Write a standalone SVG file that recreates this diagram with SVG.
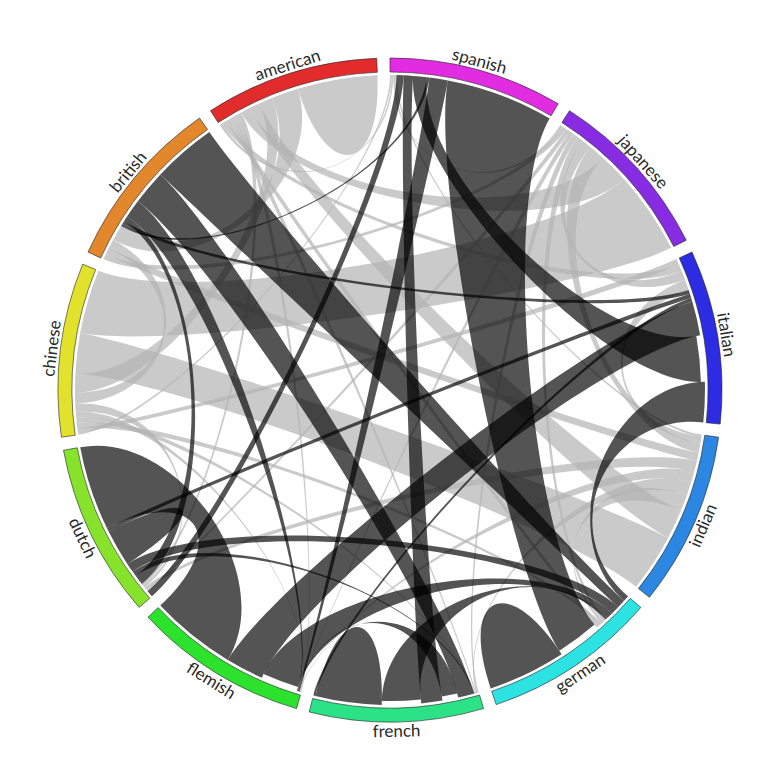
<svg xmlns="http://www.w3.org/2000/svg" width="780" height="780" viewBox="0 0 780 780">
<style>
.g{fill:#b4b4b4;fill-opacity:.7}
.d{fill:#000;fill-opacity:.67}
.arc{stroke:#222;stroke-width:.6}
.lbl{font-family:Lato,"Open Sans","Liberation Sans",sans-serif;font-weight:400;font-size:17px;fill:#2a2a2a;text-anchor:middle}
</style>
<rect width="780" height="780" fill="#fff"/>
<g id="connectors">
<path class="g" d="M390,75 A315,315 0 0 1 391.6,75 C391.1,174.2 176.4,420.7 78.2,434.8 A315,315 0 0 1 77.9,432.8 C176.2,419.3 390,174.2 390,75Z"/>
<path class="g" d="M391.6,75 A315,315 0 0 1 393.3,75 C392.3,174.2 273.3,208.5 219.7,125 A315,315 0 0 1 222.1,123.5 C275,207.4 391.1,174.2 391.6,75Z"/>
<path class="g" d="M393.3,75 A315,315 0 0 1 395,75 C393.4,174.2 506.7,208.5 560.3,125 A315,315 0 0 1 562.9,126.7 C508.5,209.6 392.3,174.2 393.3,75Z"/>
<path class="g" d="M395,75 A315,315 0 0 1 396.6,75.1 C394.5,174.3 603.6,420.7 701.8,434.8 A315,315 0 0 1 701.5,437.1 C603.4,422.3 393.4,174.2 395,75Z"/>
<path class="g" d="M562.9,126.7 A315,315 0 0 1 566.1,128.9 C510.7,211.1 193.7,300.3 103.5,259.1 A315,315 0 0 1 105.7,254.4 C195.2,297.1 508.5,209.6 562.9,126.7Z"/>
<path class="g" d="M566.1,128.9 A315,315 0 0 1 569.8,131.3 C513.2,212.8 224,527.9 147.6,591.2 A315,315 0 0 1 146.6,589.9 C223.2,527 510.7,211.1 566.1,128.9Z"/>
<path class="g" d="M569.8,131.3 A315,315 0 0 1 573.4,133.9 C515.6,214.5 328.5,596.9 300.3,692 A315,315 0 0 1 299.9,691.8 C328.3,596.8 513.2,212.8 569.8,131.3Z"/>
<path class="g" d="M573.4,133.9 A315,315 0 0 1 577.8,137.1 C518.7,216.8 450.8,597.1 478.7,692.3 A315,315 0 0 1 477.4,692.7 C449.9,597.3 515.6,214.5 573.4,133.9Z"/>
<path class="g" d="M577.8,137.1 A315,315 0 0 1 583.1,141.1 C522.3,219.5 537.7,547.3 605.6,619.6 A315,315 0 0 1 603.6,621.5 C536.4,548.6 518.7,216.8 577.8,137.1Z"/>
<path class="g" d="M583.1,141.1 A315,315 0 0 1 590.4,146.9 C527.3,223.5 589.8,308.5 681.7,271 A315,315 0 0 1 685.1,279.7 C592.1,314.4 522.3,219.5 583.1,141.1Z"/>
<path class="g" d="M590.4,146.9 A315,315 0 0 1 602.8,157.8 C535.8,230.9 602.7,426.7 700.4,443.6 A315,315 0 0 1 698.7,452.8 C601.5,433 527.3,223.5 590.4,146.9Z"/>
<path class="g" d="M602.8,157.8 A315,315 0 0 1 624.1,179.2 C550.4,245.6 288,199.8 241.2,112.4 A315,315 0 0 1 249.5,108.1 C293.7,196.9 535.8,230.9 602.8,157.8Z"/>
<path class="g" d="M624.1,179.2 A315,315 0 0 1 671.1,247.8 C582.6,292.6 177.8,351 80.2,333.1 A315,315 0 0 1 98.5,270.7 C190.3,308.3 550.4,245.6 624.1,179.2Z"/>
<path class="g" d="M676.5,259.1 A315,315 0 0 1 678.9,264.4 C587.9,304 176.2,419.3 77.9,432.8 A315,315 0 0 1 77.4,428.4 C175.8,416.3 586.3,300.3 676.5,259.1Z"/>
<path class="g" d="M678.9,264.4 A315,315 0 0 1 681.7,271 C589.8,308.5 275,207.4 222.1,123.5 A315,315 0 0 1 225.9,121.1 C277.6,205.8 587.9,304 678.9,264.4Z"/>
<path class="g" d="M685.1,279.7 A315,315 0 0 1 688.7,290.1 C594.7,321.5 603.4,422.3 701.5,437.1 A315,315 0 0 1 700.4,443.6 C602.7,426.7 592.1,314.4 685.1,279.7Z"/>
<path class="g" d="M698.7,452.8 A315,315 0 0 1 696.9,460.9 C600.3,438.5 195.2,297.1 105.7,254.4 A315,315 0 0 1 108.8,248 C197.4,292.7 601.5,433 698.7,452.8Z"/>
<path class="g" d="M696.9,460.9 A315,315 0 0 1 694.3,471.5 C598.5,445.9 223.2,527 146.6,589.9 A315,315 0 0 1 144.5,587.4 C221.8,525.2 600.3,438.5 696.9,460.9Z"/>
<path class="g" d="M694.3,471.5 A315,315 0 0 1 691.2,482.1 C596.4,453.1 328.3,596.8 299.9,691.8 A315,315 0 0 1 299.5,691.7 C328,596.7 598.5,445.9 694.3,471.5Z"/>
<path class="g" d="M691.2,482.1 A315,315 0 0 1 686.9,495.2 C593.4,462 449.9,597.3 477.4,692.7 A315,315 0 0 1 476.3,693 C449.1,597.5 596.4,453.1 691.2,482.1Z"/>
<path class="g" d="M686.9,495.2 A315,315 0 0 1 681,510.5 C589.4,472.6 536.4,548.6 603.6,621.5 A315,315 0 0 1 601.6,623.4 C535,549.9 593.4,462 686.9,495.2Z"/>
<path class="g" d="M681,510.5 A315,315 0 0 1 668.1,537.9 C580.5,491.3 293.7,196.9 249.5,108.1 A315,315 0 0 1 259.4,103.4 C300.5,193.6 589.4,472.6 681,510.5Z"/>
<path class="g" d="M668.1,537.9 A315,315 0 0 1 636.1,586.7 C558.6,524.7 174.5,378.7 75.4,373.5 A315,315 0 0 1 80.2,333.1 C177.8,351 580.5,491.3 668.1,537.9Z"/>
<path class="g" d="M601.6,623.4 A315,315 0 0 1 599.6,625.2 C533.6,551.1 175.8,416.3 77.4,428.4 A315,315 0 0 1 76.7,422.9 C175.4,412.6 535,549.9 601.6,623.4Z"/>
<path class="g" d="M599.6,625.2 A315,315 0 0 1 597.1,627.4 C531.9,552.6 277.6,205.8 225.9,121.1 A315,315 0 0 1 229.7,118.9 C280.2,204.3 533.6,551.1 599.6,625.2Z"/>
<path class="g" d="M476.3,693 A315,315 0 0 1 475.2,693.3 C448.4,597.8 280.2,204.3 229.7,118.9 A315,315 0 0 1 233.5,116.7 C282.8,202.7 449.1,597.5 476.3,693Z"/>
<path class="g" d="M475.2,693.3 A315,315 0 0 1 474.5,693.5 C447.9,597.9 175.4,412.6 76.7,422.9 A315,315 0 0 1 76.2,417.5 C175,408.8 448.4,597.8 475.2,693.3Z"/>
<path class="g" d="M301.3,692.3 A315,315 0 0 1 300.8,692.1 C328.9,597 175,408.8 76.2,417.5 A315,315 0 0 1 75.8,412 C174.7,405.1 329.2,597.1 301.3,692.3Z"/>
<path class="g" d="M300.8,692.1 A315,315 0 0 1 300.3,692 C328.5,596.9 282.8,202.7 233.5,116.7 A315,315 0 0 1 237.3,114.5 C285.4,201.3 328.9,597 300.8,692.1Z"/>
<path class="g" d="M144.5,587.4 A315,315 0 0 1 143.1,585.7 C220.9,524 174.7,405.1 75.8,412 A315,315 0 0 1 75.3,403.7 C174.4,399.4 221.8,525.2 144.5,587.4Z"/>
<path class="g" d="M143.1,585.7 A315,315 0 0 1 141.8,583.9 C220,522.9 285.4,201.3 237.3,114.5 A315,315 0 0 1 241.2,112.4 C288,199.8 220.9,524 143.1,585.7Z"/>
<path class="g" d="M75.3,403.7 A315,315 0 0 1 75,392.8 C174.2,391.9 197.4,292.7 108.8,248 A315,315 0 0 1 113.2,239.7 C200.4,287 174.4,399.4 75.3,403.7Z"/>
<path class="g" d="M75,392.8 A315,315 0 0 1 75.4,373.5 C174.5,378.7 300.5,193.6 259.4,103.4 A315,315 0 0 1 272,97.9 C309.2,189.9 174.2,391.9 75,392.8Z"/>
<path class="g" d="M113.2,239.7 A315,315 0 0 1 121.1,225.9 C205.8,277.6 309.2,189.9 272,97.9 A315,315 0 0 1 297.9,88.8 C326.9,183.6 200.4,287 113.2,239.7Z"/>
<path class="g" d="M297.9,88.8 A315,315 0 0 1 377.4,75.3 C381.4,174.4 326.9,183.6 297.9,88.8Z"/>
<path class="d" d="M396.6,75.1 A315,315 0 0 1 403.7,75.3 C399.4,174.4 226.9,531.3 151.9,596.3 A315,315 0 0 1 147.6,591.2 C224,527.9 394.5,174.3 396.6,75.1Z"/>
<path class="d" d="M403.7,75.3 A315,315 0 0 1 413.1,75.9 C405.8,174.8 426,602.8 442.5,700.6 A315,315 0 0 1 421.3,703.4 C411.4,604.7 399.4,174.4 403.7,75.3Z"/>
<path class="d" d="M413.1,75.9 A315,315 0 0 1 426.8,77.2 C415.2,175.7 602.5,352.5 696.3,336 A311,311 0 0 1 700.9,381.9 C605.7,384.4 405.8,174.8 413.1,75.9Z"/>
<path class="d" d="M426.8,77.2 A315,315 0 0 1 429.5,77.5 C417.1,175.9 205.8,277.6 121.1,225.9 A315,315 0 0 1 122.3,224 C206.6,276.3 415.2,175.7 426.8,77.2Z"/>
<path class="d" d="M429.5,77.5 A315,315 0 0 1 447.9,80.4 C429.7,177.9 328,596.7 299.5,691.7 A315,315 0 0 1 297.9,691.2 C326.9,596.4 417.1,175.9 429.5,77.5Z"/>
<path class="d" d="M447.9,80.4 A315,315 0 0 1 549.6,118.4 C499.3,203.9 531.9,552.6 594.5,624.4 A311,311 0 0 1 559.4,650.8 C507.5,571 429.7,177.9 447.9,80.4Z"/>
<path class="d" d="M688.7,290.1 A315,315 0 0 1 689.9,293.7 C595.5,324 206.6,276.3 122.3,224 A315,315 0 0 1 124,221.2 C207.8,274.4 594.7,321.5 688.7,290.1Z"/>
<path class="d" d="M689.9,293.7 A315,315 0 0 1 691.2,297.9 C596.4,326.9 197.2,487 108.6,531.5 A315,315 0 0 1 106.9,528.1 C196,484.6 595.5,324 689.9,293.7Z"/>
<path class="d" d="M691.2,297.9 A315,315 0 0 1 692.3,301.6 C597.1,329.4 338.9,599.7 315.4,696 A315,315 0 0 1 313.4,695.5 C337.5,599.3 596.4,326.9 691.2,297.9Z"/>
<path class="d" d="M692.3,301.6 A315,315 0 0 1 700.2,335.3 C602.5,352.5 302.2,587.1 261.9,677.8 A315,315 0 0 1 227.8,660 C278.9,575 597.1,329.4 692.3,301.6Z"/>
<path class="d" d="M704.9,381.8 A315,315 0 0 1 703.3,422.4 C604.7,412.2 553.1,531.3 628.1,596.3 A315,315 0 0 1 624.1,600.8 C550.4,534.4 605.7,384.4 704.9,381.8Z"/>
<path class="d" d="M624.1,600.8 A315,315 0 0 1 618.1,607.2 C546.3,538.8 232.7,242.3 160.4,174.4 A315,315 0 0 1 209.3,132 C266.2,213.3 550.4,534.4 624.1,600.8Z"/>
<path class="d" d="M618.1,607.2 A315,315 0 0 1 612,613.5 C542.1,543.1 213.7,514.4 132.6,571.6 A315,315 0 0 1 127.3,563.9 C210.1,509.1 546.3,538.8 618.1,607.2Z"/>
<path class="d" d="M612,613.5 A315,315 0 0 1 607.2,618.1 C538.8,546.3 326.2,596.2 298,687.1 A311,311 0 0 1 263.5,674.1 C302.2,587.1 542.1,543.1 612,613.5Z"/>
<path class="d" d="M135.8,576 A315,315 0 0 1 132.6,571.6 C213.7,514.4 447.9,597.9 474.5,693.5 A315,315 0 0 1 473.7,693.7 C447.3,598.1 215.9,517.5 135.8,576Z"/>
<path class="d" d="M561.6,654.2 A315,315 0 0 1 490.7,688.5 C459,594.5 507.5,571 561.6,654.2Z"/>
<path class="d" d="M473.7,693.7 A315,315 0 0 1 458.2,697.5 C436.7,600.7 217.2,260.7 137.8,201.3 A315,315 0 0 1 160.4,174.4 C232.7,242.3 447.3,598.1 473.7,693.7Z"/>
<path class="d" d="M457.3,693.6 A311,311 0 0 1 441.9,696.6 C426,602.8 326.6,596.3 297.4,691.1 A315,315 0 0 1 296.9,690.9 C326.2,596.2 436.7,600.7 457.3,693.6Z"/>
<path class="d" d="M420.9,699.5 A311,311 0 0 1 381.9,700.9 C384.4,605.7 538.8,546.3 607.2,618.1 A315,315 0 0 1 605.6,619.6 C537.7,547.3 411.4,604.7 420.9,699.5Z"/>
<path class="d" d="M381.8,704.9 A315,315 0 0 1 315.4,696 C338.9,599.7 384.4,605.7 381.8,704.9Z"/>
<path class="d" d="M127,216.6 A315,315 0 0 1 137.8,201.3 C217.2,260.7 326.9,596.4 297.9,691.2 A315,315 0 0 1 297.4,691.1 C326.6,596.3 209.8,271.2 127,216.6Z"/>
<path class="d" d="M227.8,660 A315,315 0 0 1 160.3,605.6 C232.7,537.7 196,484.6 106.9,528.1 A315,315 0 0 1 80.2,447.2 C177.8,429.2 278.9,575 227.8,660Z"/>
<path class="d" d="M141.8,583.9 A315,315 0 0 1 135.8,576 C215.9,517.5 207.8,274.4 124,221.2 A315,315 0 0 1 127,216.6 C209.8,271.2 220,522.9 141.8,583.9Z"/>
<path class="d" d="M127.3,563.9 A315,315 0 0 1 108.6,531.5 C197.2,487 210.1,509.1 127.3,563.9Z"/>
</g>
<g id="spanish"><path class="arc" fill="#e22ce2" d="M390,58 A332,332 0 0 1 558.2,103.8 L551.1,115.8 A318,318 0 0 0 390,72Z"/><text class="lbl" transform="rotate(15.22 390 390)" x="390" y="49" dy=".35em">spanish</text></g>
<g id="japanese"><path class="arc" fill="#872ce2" d="M569.5,110.7 A332,332 0 0 1 686.3,240.2 L673.8,246.5 A318,318 0 0 0 561.9,122.5Z"/><text class="lbl" transform="rotate(47.95 390 390)" x="390" y="49" dy=".35em">japanese</text></g>
<g id="italian"><path class="arc" fill="#2c2ce2" d="M692,252.1 A332,332 0 0 1 720.2,424.1 L706.3,422.7 A318,318 0 0 0 679.3,257.9Z"/><text class="lbl" transform="rotate(80.67 390 390)" x="390" y="49" dy=".35em">italian</text></g>
<g id="indian"><path class="arc" fill="#2c87e2" d="M718.6,437.2 A332,332 0 0 1 649.4,597.3 L638.4,588.5 A318,318 0 0 0 704.8,435.2Z"/><text class="lbl" transform="rotate(113.4 390 390) rotate(180 390 49)" x="390" y="49" dy=".35em">indian</text></g>
<g id="german"><path class="arc" fill="#2ce2e2" d="M640.9,607.4 A332,332 0 0 1 496.2,704.6 L491.7,691.3 A318,318 0 0 0 630.3,598.3Z"/><text class="lbl" transform="rotate(146.1 390 390) rotate(180 390 49)" x="390" y="49" dy=".35em">german</text></g>
<g id="french"><path class="arc" fill="#2ce287" d="M483.5,708.6 A332,332 0 0 1 309.2,712 L312.6,698.5 A318,318 0 0 0 479.6,695.1Z"/><text class="lbl" transform="rotate(178.9 390 390) rotate(180 390 49)" x="390" y="49" dy=".35em">french</text></g>
<g id="flemish"><path class="arc" fill="#2ce22c" d="M296.5,708.6 A332,332 0 0 1 148,617.2 L158.1,607.6 A318,318 0 0 0 300.4,695.1Z"/><text class="lbl" transform="rotate(211.6 390 390) rotate(180 390 49)" x="390" y="49" dy=".35em">flemish</text></g>
<g id="dutch"><path class="arc" fill="#87e22c" d="M139.1,607.4 A332,332 0 0 1 63.5,450.3 L77.3,447.8 A318,318 0 0 0 149.7,598.3Z"/><text class="lbl" transform="rotate(244.3 390 390) rotate(180 390 49)" x="390" y="49" dy=".35em">dutch</text></g>
<g id="chinese"><path class="arc" fill="#e2e22c" d="M61.4,437.2 A332,332 0 0 1 82.7,264.2 L95.7,269.5 A318,318 0 0 0 75.2,435.2Z"/><text class="lbl" transform="rotate(277 390 390)" x="390" y="49" dy=".35em">chinese</text></g>
<g id="british"><path class="arc" fill="#e2872c" d="M88,252.1 A332,332 0 0 1 199.5,118.1 L207.6,129.5 A318,318 0 0 0 100.7,257.9Z"/><text class="lbl" transform="rotate(309.8 390 390)" x="390" y="49" dy=".35em">british</text></g>
<g id="american"><path class="arc" fill="#e22c2c" d="M210.5,110.7 A332,332 0 0 1 376.7,58.3 L377.3,72.3 A318,318 0 0 0 218.1,122.5Z"/><text class="lbl" transform="rotate(342.5 390 390)" x="390" y="49" dy=".35em">american</text></g>
</svg>
